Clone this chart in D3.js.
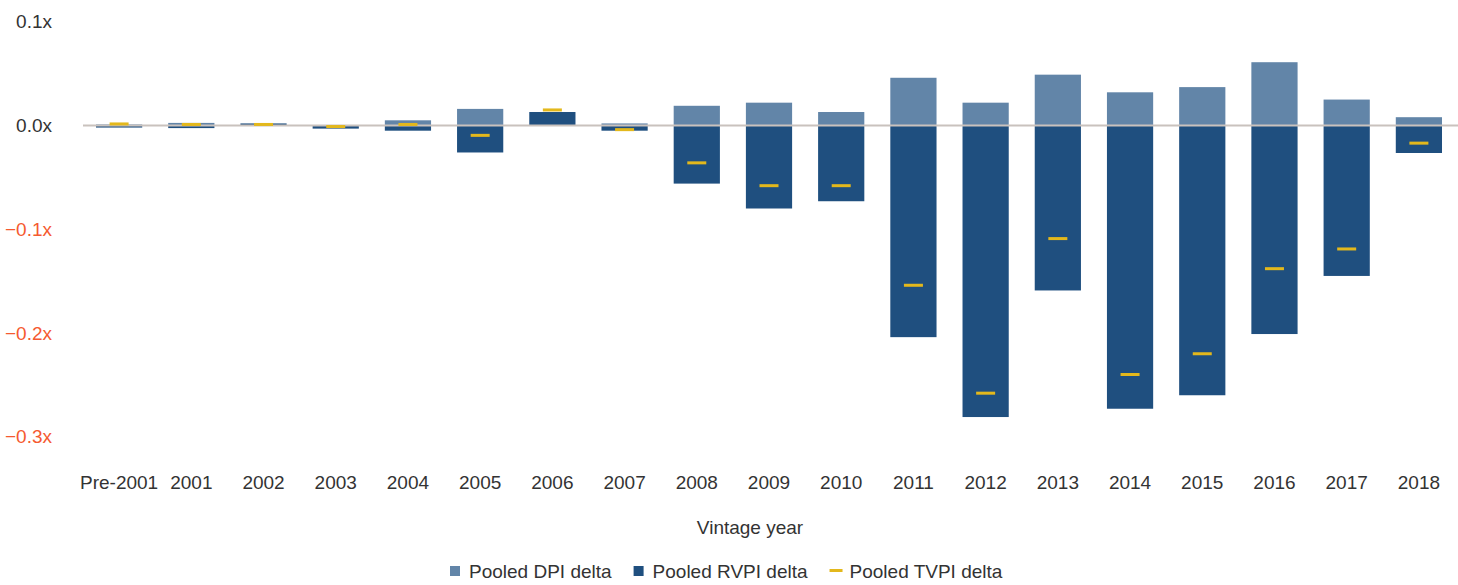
<!DOCTYPE html>
<html>
<head>
<meta charset="utf-8">
<script src="https://cdn.jsdelivr.net/npm/d3@7"></script>
<style>
  body { margin: 0; background: #fff; }
  text { font-family: "Liberation Sans", Arial, sans-serif; }
</style>
</head>
<body>
<script>
// data
var years = ["Pre-2001","2001","2002","2003","2004","2005","2006","2007","2008","2009",
             "2010","2011","2012","2013","2014","2015","2016","2017","2018"];
var dpi  = [0.001, 0.0025, 0, 0, 0.005, 0.016, 0, 0.002, 0.019, 0.022,
            0.013, 0.046, 0.022, 0.049, 0.032, 0.037, 0.061, 0.025, 0.008];
var rvpi = [-0.002, -0.0025, 0.002, -0.003, -0.005, -0.026, 0.013, -0.005, -0.056, -0.080,
            -0.073, -0.204, -0.281, -0.159, -0.273, -0.260, -0.201, -0.145, -0.0265];
var tvpi = [0.0015, 0.001, 0.001, -0.001, 0.001, -0.0095, 0.015, -0.004, -0.036, -0.058,
            -0.058, -0.154, -0.258, -0.109, -0.240, -0.220, -0.138, -0.119, -0.017];
var yTicks = [0.1, 0, -0.1, -0.2, -0.3];
var seriesNames = ["Pooled DPI delta", "Pooled RVPI delta", "Pooled TVPI delta"];

var width = 1458, height = 585;
var fontSize = 19;
var colors = {dpi: "#6285a8", rvpi: "#1f4f7f", tvpi: "#e3b81c"};

var svg = d3.select("body").append("svg")
    .attr("width", width)
    .attr("height", height);

var x = d3.scaleBand()
    .domain(years)
    .range([83, 1455])
    .paddingInner(0.36)
    .paddingOuter(0.18);

var y = d3.scaleLinear()
    .domain([-0.3, 0.1])
    .range([436.75, 21.75]);

// table for the diverging stack
var rows = years.map(function(d, i){ return {year: d, dpi: dpi[i], rvpi: rvpi[i]}; });
var stacked = d3.stack()
    .keys(["dpi", "rvpi"])
    .offset(d3.stackOffsetDiverging)(rows);

svg.append("g").selectAll("g")
    .data(stacked)
    .enter().append("g")
    .attr("fill", function(s){ return colors[s.key]; })
    .selectAll("rect")
    .data(function(s){ return s; })
    .enter().append("rect")
    .attr("x", function(d){ return x(d.data.year); })
    .attr("width", x.bandwidth())
    .attr("y", function(d){ return y(Math.max(d[0], d[1])); })
    .attr("height", function(d){ return Math.abs(y(d[0]) - y(d[1])); });

// zero line on top of the bars
svg.append("line")
    .attr("x1", 83).attr("x2", 1458)
    .attr("y1", y(0)).attr("y2", y(0))
    .attr("stroke", "#c9c2bd")
    .attr("stroke-width", 2);

// TVPI markers
svg.append("g").selectAll("rect")
    .data(tvpi)
    .enter().append("rect")
    .attr("x", function(d, i){ return x(years[i]) + x.bandwidth()/2 - 9.5; })
    .attr("width", 19)
    .attr("y", function(d){ return y(d) - 1.5; })
    .attr("height", 3)
    .attr("fill", colors.tvpi);

// y axis labels
var yAxis = d3.axisLeft(y)
    .tickValues(yTicks)
    .tickSize(0)
    .tickPadding(0)
    .tickFormat(function(d){ return d3.format(".1f")(d) + "x"; });

var gy = svg.append("g")
    .attr("transform", "translate(52,0)")
    .call(yAxis);
gy.select(".domain").remove();
gy.selectAll("text")
    .attr("font-size", fontSize)
    .attr("font-family", null)
    .attr("fill", function(d){ return d < 0 ? "#f55a30" : "#333"; });

// x axis labels
var xAxis = d3.axisBottom(x).tickSize(0).tickPadding(0);
var gx = svg.append("g")
    .attr("transform", "translate(0,475)")
    .call(xAxis);
gx.select(".domain").remove();
gx.selectAll("text")
    .attr("font-size", fontSize)
    .attr("font-family", null)
    .attr("fill", "#333");

svg.append("text")
    .attr("x", 750)
    .attr("y", 534)
    .attr("text-anchor", "middle")
    .attr("font-size", fontSize)
    .attr("fill", "#333")
    .text("Vintage year");

// legend
var legend = svg.append("g").attr("transform", "translate(0,571)");
var lx = 450;
seriesNames.forEach(function(name, i){
    var key = ["dpi", "rvpi", "tvpi"][i];
    if (key === "tvpi") {
        legend.append("rect").attr("x", lx).attr("y", -2).attr("width", 13).attr("height", 3)
            .attr("fill", colors[key]);
        lx += 20;
    } else {
        legend.append("rect").attr("x", lx).attr("y", -5).attr("width", 10).attr("height", 10)
            .attr("fill", colors[key]);
        lx += 19;
    }
    var t = legend.append("text")
        .attr("x", lx)
        .attr("y", 7)
        .attr("font-size", fontSize)
        .attr("fill", "#333")
        .text(name);
    lx += t.node().getComputedTextLength() + 22;
});
</script>
</body>
</html>
